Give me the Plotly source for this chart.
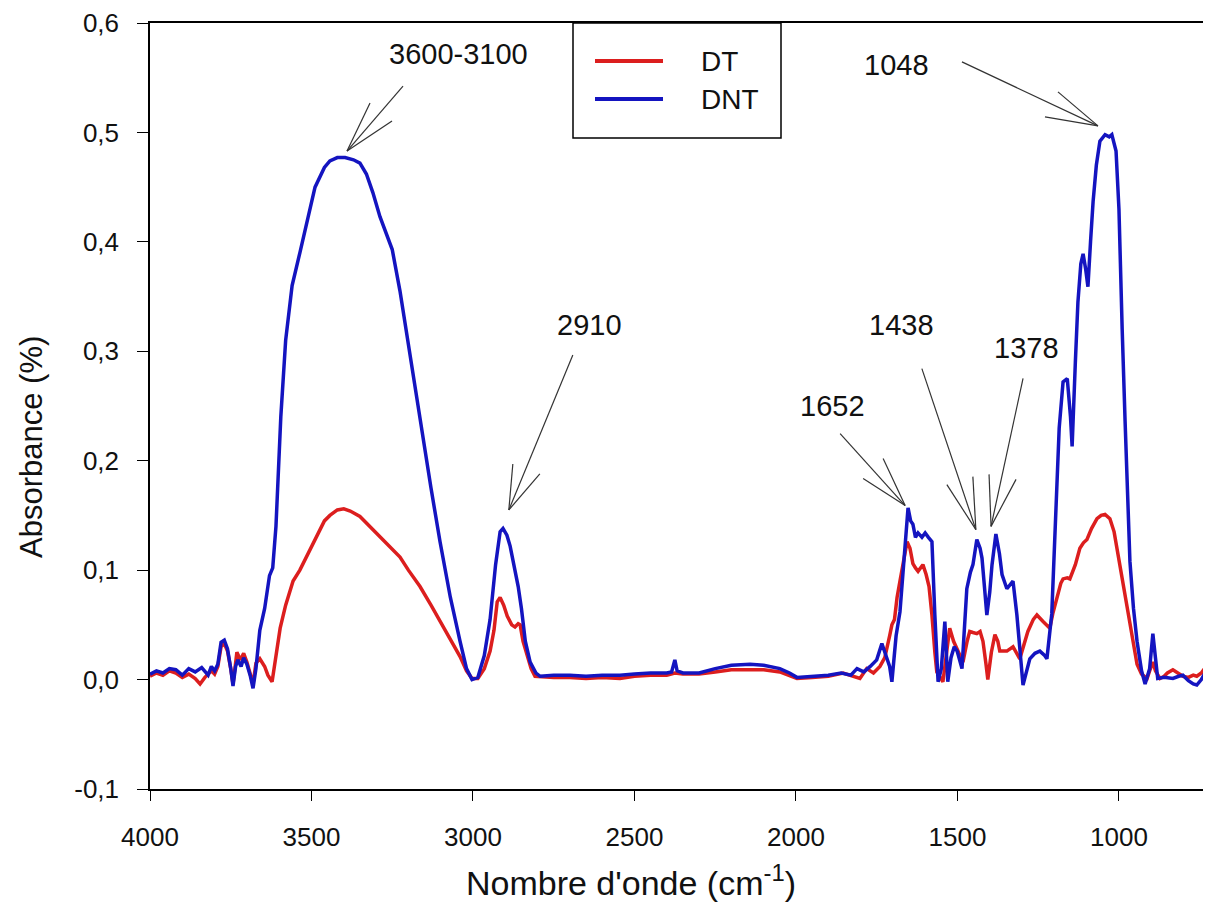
import plotly.graph_objects as go

# ---------------- data ----------------
dnt_wn = [4000, 3980, 3960, 3940, 3920, 3900, 3880, 3860, 3840, 3820, 3810, 3800, 3790, 3780, 3770, 3760,
          3750, 3743, 3735, 3728, 3718, 3710, 3700, 3690, 3681, 3672, 3660, 3645, 3630, 3620, 3610, 3595,
          3580, 3560, 3536, 3510, 3489, 3460, 3443, 3420, 3396, 3370, 3350, 3330, 3310, 3288, 3270, 3250,
          3226, 3200, 3164, 3130, 3102, 3070, 3040, 3020, 3003, 2985, 2965, 2947, 2930, 2916, 2907, 2895,
          2885, 2870, 2860, 2850, 2838, 2823, 2805, 2792, 2750, 2700, 2650, 2600, 2545, 2500, 2450, 2400,
          2385, 2375, 2368, 2350, 2300, 2250, 2200, 2142, 2100, 2050, 2020, 1997, 1950, 1900, 1860, 1830,
          1811, 1790, 1770, 1750, 1734, 1720, 1710, 1703, 1690, 1678, 1663, 1653, 1645, 1638, 1630, 1622,
          1610, 1600, 1590, 1579, 1570, 1560, 1550, 1539, 1530, 1520, 1510, 1501, 1486, 1471, 1460, 1452,
          1440, 1430, 1424, 1409, 1400, 1393, 1381, 1370, 1362, 1347, 1328, 1316, 1297, 1285, 1276, 1260,
          1245, 1230, 1223, 1208, 1195, 1185, 1173, 1160, 1150, 1145, 1135, 1127, 1118, 1111, 1103, 1096,
          1088, 1080, 1070, 1059, 1043, 1030, 1022, 1009, 1000, 997, 990, 981, 973, 966, 955, 944,
          930, 919, 905, 895, 887, 880, 860, 833, 815, 802, 785, 770, 759, 745, 730, 719, 715]
dnt_abs = [0.005, 0.008, 0.006, 0.010, 0.009, 0.004, 0.010, 0.007, 0.011, 0.004, 0.012, 0.008, 0.014, 0.034, 0.036, 0.028,
           0.010, -0.006, 0.012, 0.018, 0.012, 0.020, 0.014, 0.004, -0.008, 0.010, 0.045, 0.065, 0.095, 0.102, 0.140, 0.240,
           0.310, 0.360, 0.390, 0.425, 0.450, 0.468, 0.474, 0.477, 0.477, 0.475, 0.472, 0.462, 0.445, 0.423, 0.408, 0.393,
           0.355, 0.305, 0.236, 0.175, 0.126, 0.075, 0.035, 0.010, 0.000, 0.002, 0.022, 0.055, 0.105, 0.135, 0.138, 0.132,
           0.122, 0.100, 0.085, 0.065, 0.035, 0.016, 0.006, 0.003, 0.004, 0.004, 0.003, 0.004, 0.004, 0.005, 0.006, 0.006,
           0.007, 0.018, 0.008, 0.006, 0.006, 0.010, 0.013, 0.014, 0.013, 0.010, 0.006, 0.002, 0.003, 0.004, 0.006, 0.004,
           0.010, 0.007, 0.012, 0.018, 0.033, 0.020, 0.012, -0.002, 0.040, 0.062, 0.120, 0.157, 0.145, 0.142, 0.130, 0.134,
           0.130, 0.134, 0.130, 0.126, 0.059, -0.002, 0.010, 0.053, -0.002, 0.020, 0.030, 0.026, 0.010, 0.083, 0.098, 0.105,
           0.128, 0.120, 0.111, 0.059, 0.080, 0.105, 0.133, 0.115, 0.096, 0.083, 0.090, 0.059, -0.005, 0.010, 0.019, 0.024,
           0.026, 0.022, 0.019, 0.060, 0.150, 0.230, 0.272, 0.275, 0.240, 0.213, 0.290, 0.345, 0.380, 0.389, 0.375, 0.359,
           0.400, 0.437, 0.470, 0.492, 0.498, 0.496, 0.498, 0.483, 0.430, 0.390, 0.320, 0.236, 0.170, 0.108, 0.065, 0.035,
           0.008, -0.004, 0.010, 0.042, 0.020, 0.001, 0.002, 0.001, 0.003, 0.004, -0.001, -0.004, -0.005, 0.000, 0.008, 0.012, 0.013]

dt_wn = [4000, 3980, 3960, 3940, 3920, 3900, 3880, 3860, 3845, 3830, 3810, 3800, 3790, 3780, 3770, 3760,
         3750, 3743, 3735, 3731, 3720, 3710, 3700, 3690, 3681, 3672, 3660, 3645, 3635, 3622, 3610, 3597,
         3580, 3557, 3536, 3510, 3489, 3460, 3443, 3420, 3400, 3380, 3350, 3320, 3288, 3260, 3226, 3200,
         3164, 3130, 3102, 3070, 3040, 3020, 3003, 2985, 2965, 2947, 2935, 2925, 2916, 2905, 2894, 2880,
         2870, 2860, 2854, 2845, 2832, 2820, 2808, 2750, 2700, 2650, 2600, 2545, 2500, 2450, 2400, 2375,
         2350, 2300, 2250, 2200, 2142, 2100, 2050, 2020, 1997, 1950, 1900, 1854, 1830, 1802, 1781, 1760,
         1740, 1725, 1710, 1703, 1695, 1687, 1678, 1665, 1656, 1647, 1638, 1630, 1622, 1607, 1597, 1588,
         1579, 1570, 1564, 1545, 1535, 1524, 1512, 1501, 1483, 1470, 1462, 1452, 1440, 1430, 1421, 1412,
         1406, 1395, 1384, 1375, 1369, 1347, 1328, 1307, 1295, 1282, 1265, 1254, 1235, 1214, 1205, 1192,
         1180, 1173, 1160, 1152, 1135, 1121, 1110, 1099, 1085, 1068, 1055, 1043, 1028, 1015, 1006, 995,
         987, 976, 966, 955, 944, 930, 913, 905, 895, 887, 873, 860, 850, 833, 815, 802,
         785, 770, 759, 745, 730, 719, 715]
dt_abs = [0.003, 0.006, 0.004, 0.008, 0.006, 0.002, 0.005, 0.001, -0.004, 0.002, 0.008, 0.005, 0.012, 0.030, 0.033, 0.026,
          0.010, -0.004, 0.015, 0.025, 0.018, 0.024, 0.016, 0.006, -0.004, 0.015, 0.019, 0.012, 0.004, -0.002, 0.020, 0.047,
          0.068, 0.090, 0.100, 0.115, 0.128, 0.145, 0.150, 0.155, 0.156, 0.154, 0.149, 0.140, 0.131, 0.122, 0.112, 0.100,
          0.085, 0.068, 0.053, 0.037, 0.021, 0.008, 0.001, 0.001, 0.010, 0.026, 0.045, 0.071, 0.075, 0.068, 0.058, 0.050,
          0.048, 0.051, 0.050, 0.035, 0.021, 0.010, 0.003, 0.002, 0.002, 0.001, 0.002, 0.001, 0.003, 0.004, 0.004, 0.006,
          0.005, 0.005, 0.007, 0.009, 0.009, 0.009, 0.007, 0.004, 0.001, 0.002, 0.003, 0.006, 0.004, 0.001, 0.010, 0.006,
          0.012, 0.020, 0.040, 0.050, 0.055, 0.075, 0.090, 0.110, 0.126, 0.120, 0.106, 0.102, 0.099, 0.105, 0.096, 0.085,
          0.059, 0.025, 0.007, -0.002, 0.020, 0.047, 0.035, 0.028, 0.016, 0.035, 0.044, 0.043, 0.042, 0.044, 0.035, 0.015,
          0.000, 0.025, 0.041, 0.035, 0.026, 0.026, 0.030, 0.019, 0.030, 0.044, 0.055, 0.059, 0.053, 0.047, 0.060, 0.074,
          0.088, 0.092, 0.093, 0.092, 0.105, 0.120, 0.125, 0.128, 0.138, 0.147, 0.150, 0.151, 0.147, 0.135, 0.120, 0.103,
          0.090, 0.070, 0.053, 0.032, 0.014, 0.005, 0.001, 0.008, 0.016, 0.008, 0.001, 0.003, 0.006, 0.009, 0.006, 0.003,
          0.002, 0.004, 0.003, 0.006, 0.012, 0.018, 0.018]

x_ticks = [4000, 3500, 3000, 2500, 2000, 1500, 1000]
x_ticktext = ["4000", "3500", "3000", "2500", "2000", "1500", "1000"]
y_ticks = [-0.1, 0.0, 0.1, 0.2, 0.3, 0.4, 0.5, 0.6]
y_ticktext = ["-0,1", "0,0", "0,1", "0,2", "0,3", "0,4", "0,5", "0,6"]

# peak labels: text, arrow tip (wavenumber, absorbance), text position (wavenumber, absorbance)
peak_labels = ["3600-3100", "2910", "1652", "1438", "1378", "1048"]
peak_tip_wn = [3390, 2889, 1662, 1443, 1396, 1065]
peak_tip_abs = [0.483, 0.155, 0.159, 0.137, 0.140, 0.506]
peak_text_wn = [3046, 2638, 1888, 1672, 1285, 1690]
peak_text_abs = [0.572, 0.324, 0.250, 0.324, 0.303, 0.562]

# ---------------- layout geometry ----------------
# page pixels; the page body has an 8px margin, so the figure starts at (8, 8)
OFF = 8
W, H = 1211 - OFF, 917 - OFF
L, R, T, B = 150 - OFF, 0, 23 - OFF, 917 - 789
PW = W - L - R
PH = H - T - B

def px_x(px):  # page pixel -> paper fraction
    return (px - OFF - L) / PW

def px_y(py):
    return (H - B - (py - OFF)) / PH

RED = "#dc1e1e"
BLUE = "#1414c0"
FONT = "Liberation Sans, Arial, sans-serif"
TXT = "#111111"

fig = go.Figure()
fig.add_trace(go.Scatter(x=dt_wn, y=dt_abs, mode="lines", name="DT",
                         line=dict(color=RED, width=3.5)))
fig.add_trace(go.Scatter(x=dnt_wn, y=dnt_abs, mode="lines", name="DNT",
                         line=dict(color=BLUE, width=3.5)))

annotations = []
shapes = []
# arrow geometry in pixel offsets (right, down) from tip: shaft start, barb1, barb2
arrow_offsets = [
    [(56, -65), (23, -48), (45, -30)],
    [(64, -155), (4, -46), (31, -36)],
    [(-65, -72), (-42, -27), (-22, -47)],
    [(-54, -161), (-29, -45), (-3, -53)],
    [(32, -148), (-2, -52), (25, -47)],
    [(-136, -64), (-40, -34), (-53, -9)],
]
for i, lab in enumerate(peak_labels):
    annotations.append(dict(x=peak_text_wn[i], y=peak_text_abs[i], xref="x", yref="y",
                            text=lab, showarrow=False, xanchor="center", yanchor="middle",
                            font=dict(family=FONT, size=29, color=TXT)))
    for (dx, dy) in arrow_offsets[i]:
        shapes.append(dict(type="line", xref="x", yref="y",
                           xsizemode="pixel", ysizemode="pixel",
                           xanchor=peak_tip_wn[i], yanchor=peak_tip_abs[i],
                           x0=0, y0=0, x1=dx, y1=-dy,
                           line=dict(color="#333333", width=1.2)))

# axis titles
annotations.append(dict(x=px_x(31), y=px_y(447), xref="paper", yref="paper",
                        text="Absorbance (%)", textangle=-90, showarrow=False,
                        xanchor="center", yanchor="middle",
                        font=dict(family=FONT, size=31, color=TXT)))
annotations.append(dict(x=px_x(631), y=px_y(880), xref="paper", yref="paper",
                        text="Nombre d'onde (cm<sup>-1</sup>)", showarrow=False,
                        xanchor="center", yanchor="middle",
                        font=dict(family=FONT, size=34, color=TXT)))

# custom legend
shapes += [
    dict(type="rect", xref="paper", yref="paper", x0=px_x(573), x1=px_x(781),
         y0=px_y(138), y1=px_y(23), line=dict(color="black", width=1.5), fillcolor="white", layer="above"),
    dict(type="line", xref="paper", yref="paper", x0=px_x(595), x1=px_x(663),
         y0=px_y(61), y1=px_y(61), line=dict(color=RED, width=4), layer="above"),
    dict(type="line", xref="paper", yref="paper", x0=px_x(595), x1=px_x(663),
         y0=px_y(99), y1=px_y(99), line=dict(color=BLUE, width=4), layer="above"),
]
for name, py in [("DT", 61), ("DNT", 99)]:
    annotations.append(dict(x=px_x(699), y=px_y(py), xref="paper", yref="paper",
                            text=name, showarrow=False, xanchor="left", yanchor="middle",
                            font=dict(family=FONT, size=28, color=TXT)))

fig.update_layout(
    width=W, height=H,
    margin=dict(l=L, r=R, t=T, b=B, pad=0),
    paper_bgcolor="white", plot_bgcolor="white",
    showlegend=False,
    font=dict(family=FONT, size=26, color=TXT),
    annotations=annotations,
    shapes=shapes,
    xaxis=dict(range=[4000, 715], tickvals=x_ticks, ticktext=x_ticktext,
               showgrid=False, zeroline=False, showline=True, linecolor="black", linewidth=1.5,
               mirror=True, ticks="outside", ticklen=10, tickcolor="black", tickwidth=1.2,
               ticklabelstandoff=14,
               tickfont=dict(family=FONT, size=26, color=TXT)),
    yaxis=dict(range=[-0.1, 0.6], tickvals=y_ticks, ticktext=y_ticktext,
               showgrid=False, zeroline=False, showline=True, linecolor="black", linewidth=1.5,
               mirror=False, ticks="outside", ticklen=11, tickcolor="black", tickwidth=1.2,
               ticklabelstandoff=13,
               tickfont=dict(family=FONT, size=26, color=TXT)),
)

fig.write_html("out.html")
